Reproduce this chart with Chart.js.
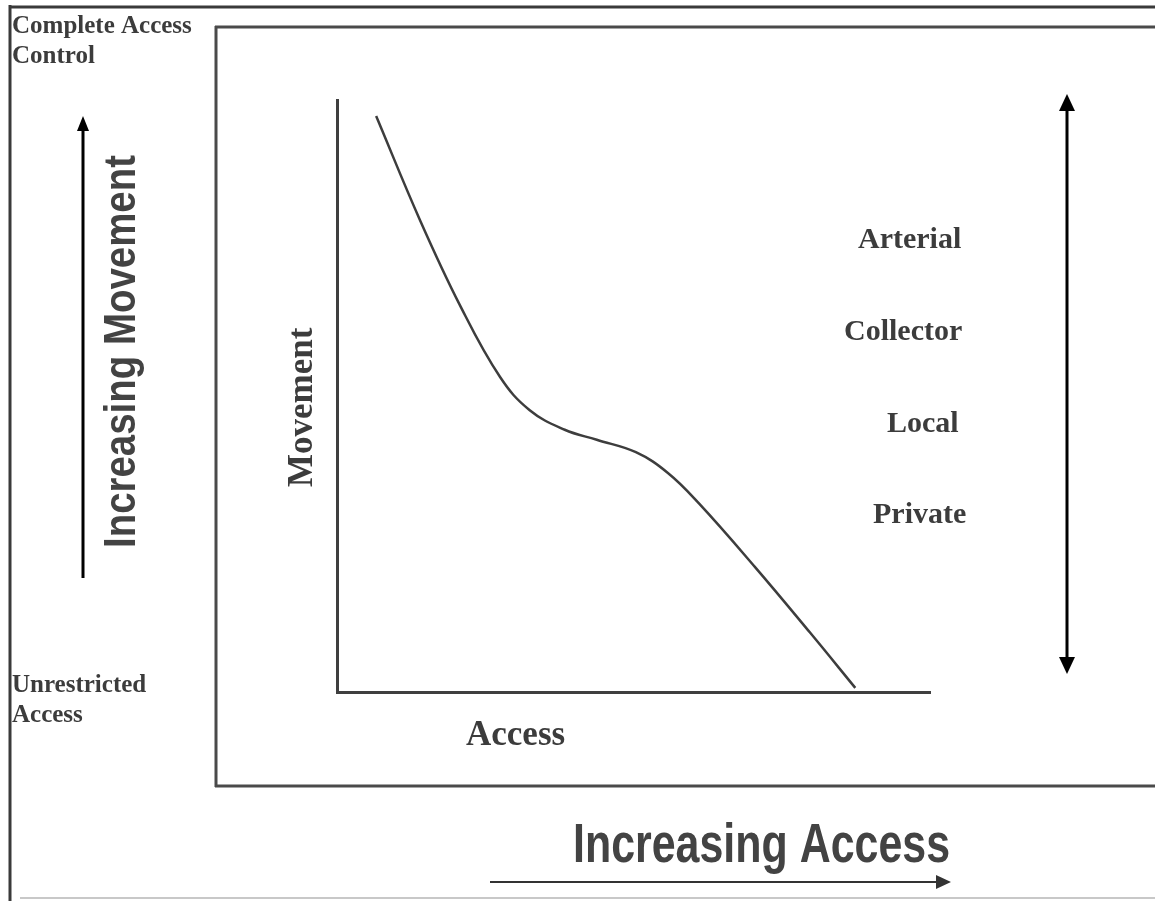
<!DOCTYPE html>
<html>
<head>
<meta charset="utf-8">
<title>Movement vs Access</title>
<script src="https://cdn.jsdelivr.net/npm/chart.js@4.4.1/dist/chart.umd.min.js"></script>
<style>
  html, body { margin: 0; padding: 0; background: #fff; }
  canvas { display: block; }
</style>
</head>
<body>
<canvas id="chart" width="1155" height="901"></canvas>
<script>
// curve (access on x, movement on y, both 0-100)
const accessValues = [6.6, 14.0, 20.7, 27.5, 32.5, 38.4, 43.8, 50.4, 55.8, 61.0, 70.5, 79.8, 87.4];
const movementValues = [97.3, 79.7, 65.4, 53.2, 47.6, 44.3, 42.6, 40.5, 37.0, 31.9, 21.1, 10.0, 0.7];
const roadClasses = ['Arterial', 'Collector', 'Local', 'Private'];

const ink = '#3c3c3c';
const serif = '"Liberation Serif", "Times New Roman", serif';
const sans = '"Liberation Sans", Arial, sans-serif';

function arrowHead(ctx, x, y, dir, len, half) {
    // dir: 'up', 'down', 'right'
    ctx.beginPath();
    if (dir === 'up') {
        ctx.moveTo(x, y); ctx.lineTo(x - half, y + len); ctx.lineTo(x + half, y + len);
    } else if (dir === 'down') {
        ctx.moveTo(x, y); ctx.lineTo(x - half, y - len); ctx.lineTo(x + half, y - len);
    } else {
        ctx.moveTo(x, y); ctx.lineTo(x - len, y - half); ctx.lineTo(x - len, y + half);
    }
    ctx.closePath();
    ctx.fill();
}

function line(ctx, x1, y1, x2, y2, w, color) {
    ctx.strokeStyle = color;
    ctx.lineWidth = w;
    ctx.beginPath();
    ctx.moveTo(x1, y1);
    ctx.lineTo(x2, y2);
    ctx.stroke();
}

// squeezed sans text, fitted to the width it has in the scan
function fittedText(ctx, text, x, y, size, width, angle) {
    ctx.save();
    ctx.font = 'bold ' + size + 'px ' + sans;
    const w = ctx.measureText(text).width;
    ctx.translate(x, y);
    ctx.rotate(angle);
    ctx.scale(width / w, 1);
    ctx.fillText(text, 0, 0);
    ctx.restore();
}

const decorations = {
    id: 'decorations',
    beforeDraw(chart) {
        const ctx = chart.ctx;
        ctx.save();
        ctx.fillStyle = '#fff';
        ctx.fillRect(0, 0, chart.width, chart.height);
        ctx.restore();
    },
    afterDraw(chart) {
        const ctx = chart.ctx;
        ctx.save();

        // outer frame
        line(ctx, 10, 5, 10, 901, 3, '#3a3a3a');
        line(ctx, 9, 7, 1155, 7, 3, '#3a3a3a');
        line(ctx, 20, 898, 1155, 898, 2, '#c8c8c8');

        // inner box
        line(ctx, 216, 26, 216, 787, 3, '#4a4a4a');
        line(ctx, 215, 27, 1155, 27, 3, '#4a4a4a');
        line(ctx, 215, 786, 1155, 786, 3, '#4a4a4a');

        // corner labels
        ctx.fillStyle = ink;
        ctx.textBaseline = 'alphabetic';
        ctx.textAlign = 'left';
        ctx.font = 'bold 25px ' + serif;
        ctx.fillText('Complete Access', 12, 33);
        ctx.fillText('Control', 12, 63);
        ctx.fillText('Unrestricted', 12, 692);
        ctx.fillText('Access', 12, 722);

        // road classes
        ctx.font = 'bold 30px ' + serif;
        const classX = [858, 844, 887, 873];
        const classY = [248, 340, 432, 523];
        roadClasses.forEach((name, i) => ctx.fillText(name, classX[i], classY[i]));

        // axis names
        ctx.font = 'bold 35px ' + serif;
        ctx.fillText('Access', 466, 745);
        ctx.save();
        ctx.translate(312, 487);
        ctx.rotate(-Math.PI / 2);
        ctx.fillText('Movement', 0, 0);
        ctx.restore();

        // big sans labels
        ctx.fillStyle = '#434343';
        fittedText(ctx, 'Increasing Movement', 135, 548, 44, 393, -Math.PI / 2);
        fittedText(ctx, 'Increasing Access', 573, 862, 56, 377, 0);

        // arrows
        ctx.fillStyle = '#000';
        line(ctx, 83, 578, 83, 128, 3, '#000');
        arrowHead(ctx, 83, 116, 'up', 15, 6);

        line(ctx, 1067, 108, 1067, 660, 3, '#000');
        arrowHead(ctx, 1067, 94, 'up', 17, 8);
        arrowHead(ctx, 1067, 674, 'down', 17, 8);

        ctx.fillStyle = '#333';
        line(ctx, 490, 882, 938, 882, 2, '#333');
        arrowHead(ctx, 951, 882, 'right', 15, 7);

        ctx.restore();
    }
};

const points = accessValues.map((x, i) => ({ x: x, y: movementValues[i] }));

new Chart(document.getElementById('chart'), {
    type: 'scatter',
    data: {
        datasets: [{
            label: 'Movement',
            data: points,
            showLine: true,
            borderColor: '#3d3d3d',
            borderWidth: 2.5,
            pointRadius: 0,
            tension: 0.4,
            fill: false
        }]
    },
    options: {
        responsive: false,
        animation: false,
        events: [],
        layout: {
            autoPadding: false,
            padding: { left: 337, top: 100, right: 225, bottom: 209 }
        },
        plugins: {
            legend: { display: false },
            tooltip: { enabled: false }
        },
        scales: {
            x: {
                type: 'linear',
                min: 0,
                max: 100,
                ticks: { display: false },
                grid: { display: false, drawTicks: false },
                border: { display: true, color: '#3f3f3f', width: 3 }
            },
            y: {
                type: 'linear',
                min: 0,
                max: 100,
                ticks: { display: false },
                grid: { display: false, drawTicks: false },
                border: { display: true, color: '#3f3f3f', width: 3 }
            }
        }
    },
    plugins: [decorations]
});
</script>
</body>
</html>
